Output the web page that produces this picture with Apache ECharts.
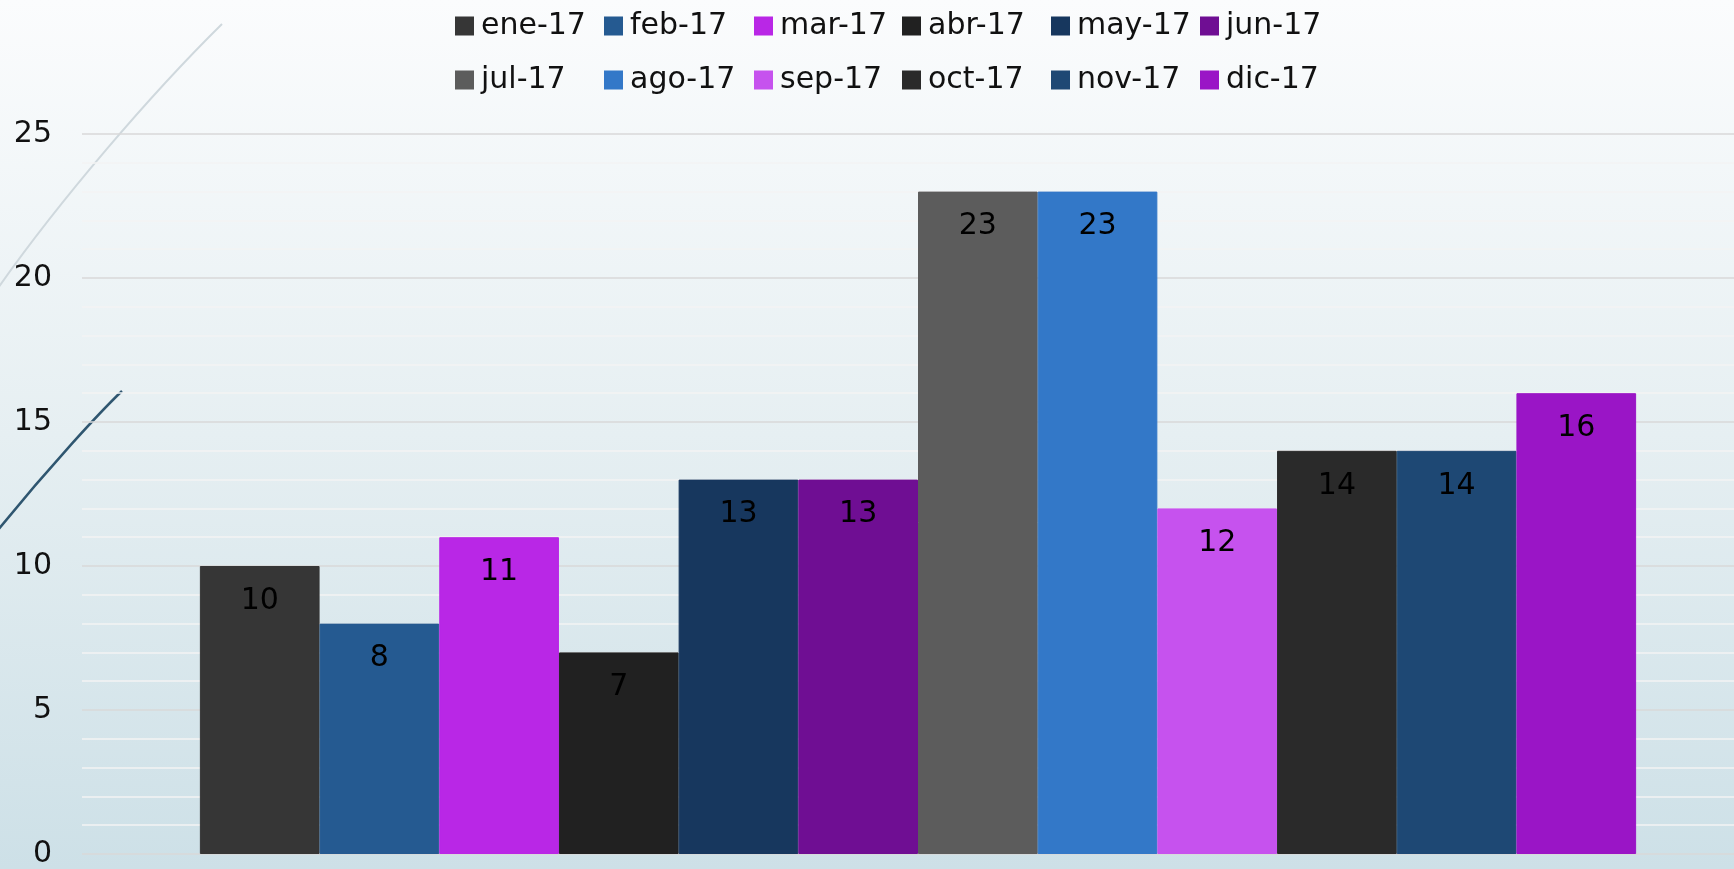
<!DOCTYPE html>
<html>
<head>
<meta charset="utf-8">
<script src="https://cdn.jsdelivr.net/npm/echarts@6/dist/echarts.min.js"></script>
<style>
html,body{margin:0;padding:0;width:100%;height:100%;overflow:hidden;}
#chart{width:1754px;height:869px;}
</style>
</head>
<body>
<div id="chart"></div>
<script>
// ---- data ----
var months = ['ene-17','feb-17','mar-17','abr-17','may-17','jun-17','jul-17','ago-17','sep-17','oct-17','nov-17','dic-17'];
var values = [10, 8, 11, 7, 13, 13, 23, 23, 12, 14, 14, 16];
var colors = ['#363636','#255a91','#b927e6','#212121','#17375e','#6f0e93','#5c5c5c','#3378c8','#c652ee','#2a2a2a','#1e4874','#9a15c6'];
var yTicks = [0, 5, 10, 15, 20, 25];

var FONT = 'DejaVu Sans';
var chart = echarts.init(document.getElementById('chart'));

var colX = [455, 604, 754, 902, 1051, 1200];
var rowTop = [11, 65];

var legends = months.map(function (m, i) {
  return {
    data: [m],
    left: colX[i % 6],
    top: rowTop[Math.floor(i / 6)],
    padding: 0,
    icon: 'rect',
    itemWidth: 17,
    itemHeight: 17,
    selectedMode: false,
    textStyle: { fontFamily: FONT, fontSize: 30, color: '#111', padding: [0, 0, 0, 3] }
  };
});

var series = months.map(function (m, i) {
  return {
    name: m,
    type: 'bar',
    data: [values[i]],
    barGap: '0%',
    barCategoryGap: '14.1%',
    itemStyle: { color: colors[i], borderColor: colors[i], borderWidth: 1 },
    label: {
      show: true,
      position: 'insideTop',
      distance: 20,
      fontFamily: FONT,
      fontSize: 30,
      color: '#000'
    },
    emphasis: { disabled: true }
  };
});

chart.setOption({
  animation: false,
  backgroundColor: {
    type: 'linear', x: 0, y: 0, x2: 0, y2: 1,
    colorStops: [
      { offset: 0, color: '#fbfcfd' },
      { offset: 0.5, color: '#e6eff2' },
      { offset: 1, color: '#cde0e7' }
    ]
  },
  graphic: [
    {
      type: 'bezierCurve',
      z: 0,
      silent: true,
      shape: { x1: 222, y1: 24, cpx1: 150, cpy1: 95, cpx2: 60, cpy2: 200, x2: -2, y2: 288 },
      style: { stroke: '#cfd8dd', lineWidth: 2, fill: null }
    },
    {
      type: 'bezierCurve',
      z: 0,
      silent: true,
      shape: { x1: 122, y1: 391, cpx1: 100, cpy1: 412, cpx2: 50, cpy2: 466, x2: -2, y2: 530 },
      style: { stroke: '#2f5670', lineWidth: 2.5, fill: null }
    }
  ],
  legend: legends,
  grid: { left: 82, right: 0, top: 134, bottom: 12, containLabel: false },
  xAxis: {
    type: 'category',
    data: [''],
    axisLine: { show: false },
    axisTick: { show: false },
    axisLabel: { show: false },
    splitLine: { show: false }
  },
  yAxis: {
    type: 'value',
    min: yTicks[0],
    max: yTicks[yTicks.length - 1],
    interval: yTicks[1] - yTicks[0],
    axisLine: { show: false },
    axisTick: { show: false },
    axisLabel: { fontFamily: FONT, fontSize: 30, color: '#111', margin: 30 },
    splitLine: { show: true, lineStyle: { color: '#d9d9d9', width: 1.5 } },
    minorTick: { show: false, splitNumber: 5 },
    minorSplitLine: { show: true, lineStyle: { color: '#f3f3f3', width: 1.5 } }
  },
  series: series
});
</script>
</body>
</html>
